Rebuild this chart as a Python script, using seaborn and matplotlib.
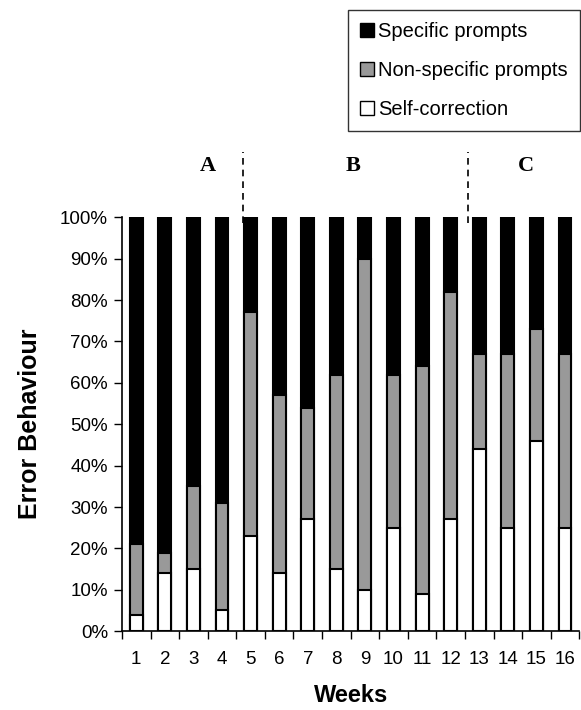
import pandas as pd
import seaborn as sns
import matplotlib.pyplot as plt
from matplotlib.patches import Patch

# Percentuais (por semana)
weeks = [str(i) for i in range(1, 17)]
self_correction = [4, 14, 15, 5, 23, 14, 27, 15, 10, 25, 9, 27, 44, 25, 46, 25]
non_specific = [17, 5, 20, 26, 54, 43, 27, 47, 80, 37, 55, 55, 23, 42, 27, 42]
specific = [79, 81, 65, 69, 23, 43, 46, 38, 10, 38, 36, 18, 33, 33, 27, 33]
phases = ['A', 'B', 'C']
phase_pos = [2.5, 7.6, 13.65]
phase_breaks = [3.74, 11.6]

dados = pd.DataFrame({'Week': weeks, 'self': self_correction,
                      'non': non_specific, 'spec': specific})
dados['top'] = dados['self'] + dados['non'] + dados['spec']
dados['mid'] = dados['self'] + dados['non']

sns.set_style('white')
plt.rcParams['font.family'] = ['Liberation Sans', 'DejaVu Sans']
for k in ['text.color', 'axes.labelcolor', 'xtick.color', 'ytick.color']:
    plt.rcParams[k] = 'black'

fig = plt.figure(figsize=(5.81, 7.10), dpi=100)
ax = fig.add_axes([0.21, 0.111, 0.787, 0.583])

# barras empilhadas: total, depois acumulado, depois base
for col, cor in [('top', 'black'), ('mid', '#999999'), ('self', 'white')]:
    sns.barplot(data=dados, x='Week', y=col, color=cor, width=0.45,
                edgecolor='black', linewidth=1.5, saturation=1, ax=ax)

ax.set_xlim(-0.5, 15.5)
ax.set_ylim(0, 100)
ax.set_yticks(range(0, 101, 10))
ax.set_yticklabels([f'{v}%' for v in range(0, 101, 10)], fontsize=13.5)
ax.set_xticks(range(16))
ax.set_xticklabels(weeks, fontsize=13.5)
ax.set_xticks([i - 0.5 for i in range(17)], minor=True)
ax.tick_params(axis='x', which='major', length=0, pad=14)
ax.tick_params(axis='x', which='minor', length=6, width=1, direction='out', bottom=True)
ax.tick_params(axis='y', length=6, width=1, direction='out', left=True, pad=4)
for s in ['top', 'right']:
    ax.spines[s].set_visible(False)
for s in ['left', 'bottom']:
    ax.spines[s].set_color('black')
    ax.spines[s].set_linewidth(1.2)

ax.set_xlabel('Weeks', fontsize=17, fontweight='bold', labelpad=12)
ax.set_ylabel('Error Behaviour', fontsize=18, fontweight='bold', labelpad=13)

# linhas tracejadas das fases
for xb in phase_breaks:
    ax.plot([xb, xb], [98.5, 115.7], ls=(0, (4, 3)), color='black', lw=1.2, clip_on=False)
for lab, xp in zip(phases, phase_pos):
    ax.text(xp, 112.3, lab, ha='center', va='center', fontsize=16,
            fontweight='bold', family='Liberation Serif')

handles = [Patch(facecolor='black', edgecolor='black', label='Specific prompts'),
           Patch(facecolor='#999999', edgecolor='black', label='Non-specific prompts'),
           Patch(facecolor='white', edgecolor='black', label='Self-correction')]
leg = fig.legend(handles=handles, loc='upper right', bbox_to_anchor=(0.998, 0.986),
                 fontsize=14.5, frameon=True, fancybox=False, edgecolor='black',
                 handlelength=0.7, handleheight=0.7, handletextpad=0.2,
                 labelspacing=1.0, borderpad=0.6, borderaxespad=0)
leg.get_frame().set_linewidth(1.0)

plt.savefig('out.png', dpi=100)
